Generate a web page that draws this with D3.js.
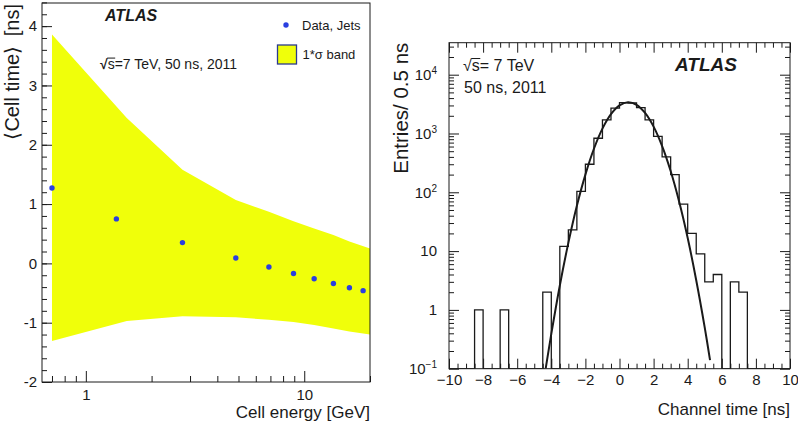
<!DOCTYPE html>
<html><head><meta charset="utf-8">
<script src="https://cdn.jsdelivr.net/npm/d3@7"></script>
<style>
body{margin:0;background:#fff}
svg{font-family:"Liberation Sans",Arial,Helvetica,sans-serif;display:block}
</style>
</head><body>
<svg id="c" width="798" height="425"></svg>
<script>
// ---------- Left panel data ----------
const energy   = [0.70, 1.38, 2.77, 4.86, 6.89, 8.93, 11.1, 13.6, 16.1, 18.6];
const cellTime = [1.27, 0.75, 0.35, 0.09, -0.06, -0.17, -0.26, -0.34, -0.41, -0.46];
const bandEnergy = [0.70, 1.54, 2.77, 4.86, 6.89, 8.93, 11.1, 13.6, 16.1, 20];
const bandUpper  = [3.86, 2.45, 1.58, 1.07, 0.87, 0.71, 0.59, 0.48, 0.37, 0.25];
const bandLower  = [-1.31, -0.97, -0.89, -0.91, -0.95, -0.99, -1.04, -1.10, -1.15, -1.20];
const leftYTicks = [-2, -1, 0, 1, 2, 3, 4];
const leftYLabels = ["-2", "-1", "0", "1", "2", "3", "4"];
const leftXTicks = [1, 10];
const leftXLabels = ["1", "10"];
const leftXMinor = [0.7, 0.8, 0.9, 2, 3, 4, 5, 6, 7, 8, 9, 20];

// ---------- Right panel data ----------
const binLow = [-10,-9.5,-9,-8.5,-8,-7.5,-7,-6.5,-6,-5.5,-5,-4.5,-4,-3.5,-3,-2.5,-2,-1.5,-1,-0.5,
                0,0.5,1,1.5,2,2.5,3,3.5,4,4.5,5,5.5,6,6.5,7,7.5,8,8.5,9,9.5];
const entries = [0,0,0,1,0,0,1,0,0,0,0,2,0,12,23,104,300,830,1700,2700,
                 3350,3300,2750,1700,890,400,200,63,20,9,3,4,0,3,2,0,0,0,0,0];
const fitTime  = [-4.33,-4.0,-3.5,-3.0,-2.5,-2.0,-1.5,-1.0,-0.5,0,0.5,1.0,1.5,2.0,2.5,3.0,3.5,4.0,4.5,5.0,5.31];
const fitValue = [0.1,0.39,2.6,13.8,59,200,550,1210,2130,3000,3400,3080,2240,1310,612,230,69,16.7,3.2,0.5,0.14];
const rightXTicks = [-10,-8,-6,-4,-2,0,2,4,6,8,10];
const rightXLabels = ["\u221210","\u22128","\u22126","\u22124","\u22122","0","2","4","6","8","10"];
const rightYTicks = [0.1, 1, 10, 100, 1000, 10000];
const rightYBase = ["10", "1", "10", "10", "10", "10"];
const rightYExp  = ["\u22121", "", "", "2", "3", "4"];

const svg = d3.select("#c");
const INK = "#1a1a1a";

// ================= LEFT PANEL =================
const L = {x0: 42, x1: 370, y0: 3, y1: 382};
const xL = d3.scaleLog().domain([0.63, 20]).range([L.x0, L.x1]);
const yL = d3.scaleLinear().domain([-2, 4.39]).range([L.y1, L.y0]);

svg.append("clipPath").attr("id", "clipL").append("rect")
  .attr("x", L.x0).attr("y", L.y0).attr("width", L.x1 - L.x0).attr("height", L.y1 - L.y0);

const gL = svg.append("g");
const bandData = bandEnergy.map((e, i) => ({e, hi: bandUpper[i], lo: bandLower[i]}));
gL.append("path").datum(bandData)
  .attr("clip-path", "url(#clipL)")
  .attr("fill", "#f0ff0a")
  .attr("d", d3.area().x(d => xL(d.e)).y0(d => yL(d.lo)).y1(d => yL(d.hi)));

gL.selectAll("circle.pt").data(energy.map((e, i) => ({e, t: cellTime[i]})))
  .join("circle").attr("class", "pt")
  .attr("cx", d => xL(d.e)).attr("cy", d => yL(d.t)).attr("r", 2.7)
  .attr("fill", "#2a3fe0");

// axes
const minorY = d3.range(-2, 4.41, 0.2).map(v => +v.toFixed(1));
const axYLminor = gL.append("g").attr("transform", `translate(${L.x0},0)`)
  .call(d3.axisLeft(yL).tickValues(minorY).tickSize(-5).tickFormat(""));
const axYL = gL.append("g").attr("transform", `translate(${L.x0},0)`)
  .call(d3.axisLeft(yL).tickValues(leftYTicks).tickSize(-10).tickPadding(5)
        .tickFormat((d, i) => leftYLabels[i]));
const axXLminor = gL.append("g").attr("transform", `translate(0,${L.y1})`)
  .call(d3.axisBottom(xL).tickValues(leftXMinor).tickSize(-6).tickFormat(""));
const axXL = gL.append("g").attr("transform", `translate(0,${L.y1})`)
  .call(d3.axisBottom(xL).tickValues(leftXTicks).tickSize(-11).tickPadding(7)
        .tickFormat((d, i) => leftXLabels[i]));
[axYLminor, axYL, axXLminor, axXL].forEach(a => {
  a.select(".domain").remove();
  a.selectAll("line").attr("stroke", INK);
  a.selectAll("text").attr("font-size", 15).attr("fill", INK).attr("font-family", "Liberation Sans, Arial, sans-serif");
});
gL.append("rect").attr("x", L.x0).attr("y", L.y0).attr("width", L.x1 - L.x0).attr("height", L.y1 - L.y0)
  .attr("fill", "none").attr("stroke", INK).attr("stroke-width", 1);

// titles
gL.append("text").attr("transform", `translate(18.5,${L.y0 + 1}) rotate(-90)`)
  .attr("text-anchor", "end").attr("font-size", 20).attr("fill", INK)
  .text("\u27E8Cell time\u27E9\u2009 [ns]");
gL.append("text").attr("x", L.x1).attr("y", 418).attr("text-anchor", "end")
  .attr("font-size", 17).attr("fill", INK).text("Cell energy [GeV]");

gL.append("text").attr("x", 105).attr("y", 21).attr("font-size", 16)
  .attr("font-weight", "bold").attr("font-style", "italic").attr("fill", INK).text("ATLAS");

function sqrtS(g, x, y, size, rest, boldRoot) {
  const t = g.append("text").attr("x", x).attr("y", y).attr("font-size", size).attr("fill", INK);
  t.append("tspan").attr("font-weight", boldRoot ? "bold" : "normal").text("\u221A");
  t.append("tspan").text("s");
  t.append("tspan").text(rest);
  const node = t.node();
  const sx = node.getStartPositionOfChar(1).x;
  const ex = node.getEndPositionOfChar(1).x;
  g.append("line").attr("x1", sx - 0.5).attr("x2", ex + 0.5)
    .attr("y1", y - size * 0.78).attr("y2", y - size * 0.78)
    .attr("stroke", INK).attr("stroke-width", 1);
}
sqrtS(gL, 100, 69, 14, "=7 TeV, 50 ns, 2011", true);

// legend
gL.append("circle").attr("cx", 286).attr("cy", 25).attr("r", 2.7).attr("fill", "#2a3fe0");
gL.append("text").attr("x", 302).attr("y", 29.5).attr("font-size", 13).attr("fill", INK).text("Data, Jets");
gL.append("rect").attr("x", 277.5).attr("y", 45).attr("width", 19).attr("height", 19)
  .attr("fill", "#f0ff0a").attr("stroke", "#2b3a8f").attr("stroke-width", 1.3);
gL.append("text").attr("x", 302.5).attr("y", 58.5).attr("font-size", 13).attr("fill", INK).text("1*\u03C3 band");

// ================= RIGHT PANEL =================
const R = {x0: 449, x1: 790, y0: 42.7, y1: 368.7};
const xR = d3.scaleLinear().domain([-10, 10]).range([R.x0, R.x1]);
const yR = d3.scaleLog().domain([0.1, 35000]).range([R.y1, R.y0]);

svg.append("clipPath").attr("id", "clipR").append("rect")
  .attr("x", R.x0).attr("y", R.y0).attr("width", R.x1 - R.x0).attr("height", R.y1 - R.y0);
const gR = svg.append("g");

// histogram outline
const steps = [{t: binLow[0], v: 0.1}];
binLow.forEach((b, i) => {
  const v = Math.max(entries[i], 0.1);
  steps.push({t: b, v}, {t: b + 0.5, v});
});
steps.push({t: 10, v: 0.1});
gR.append("path").datum(steps).attr("clip-path", "url(#clipR)")
  .attr("fill", "none").attr("stroke", INK).attr("stroke-width", 1.3)
  .attr("d", d3.line().x(d => xR(d.t)).y(d => yR(d.v)));

// fit curve
gR.append("path").datum(fitTime.map((t, i) => ({t, v: fitValue[i]})))
  .attr("clip-path", "url(#clipR)")
  .attr("fill", "none").attr("stroke", INK).attr("stroke-width", 2)
  .attr("d", d3.line().x(d => xR(d.t)).y(d => yR(d.v)).curve(d3.curveCatmullRom.alpha(0.5)));

// ticks
const xMinorR = d3.range(-10, 10.01, 0.5).filter(v => Math.abs(v % 2) > 1e-9);
const yMinorR = [];
[0.1, 1, 10, 100, 1000, 10000].forEach(dec => {
  for (let k = 2; k <= 9; k++) { const v = dec * k; if (v <= 35000) yMinorR.push(v); }
});
function styleAxis(a) {
  a.select(".domain").remove();
  a.selectAll("line").attr("stroke", INK);
  a.selectAll("text").attr("font-size", 15).attr("fill", INK).attr("font-family", "Liberation Sans, Arial, sans-serif");
}
styleAxis(gR.append("g").attr("transform", `translate(0,${R.y1})`)
  .call(d3.axisBottom(xR).tickValues(xMinorR).tickSize(-5).tickFormat("")));
styleAxis(gR.append("g").attr("transform", `translate(0,${R.y1})`)
  .call(d3.axisBottom(xR).tickValues(rightXTicks).tickSize(-10).tickPadding(5.5)
        .tickFormat((d, i) => rightXLabels[i])));
styleAxis(gR.append("g").attr("transform", `translate(0,${R.y0})`)
  .call(d3.axisTop(xR).tickValues(xMinorR).tickSize(-5).tickFormat("")));
styleAxis(gR.append("g").attr("transform", `translate(0,${R.y0})`)
  .call(d3.axisTop(xR).tickValues(rightXTicks).tickSize(-10).tickFormat("")));
styleAxis(gR.append("g").attr("transform", `translate(${R.x0},0)`)
  .call(d3.axisLeft(yR).tickValues(yMinorR).tickSize(-5).tickFormat("")));
styleAxis(gR.append("g").attr("transform", `translate(${R.x0},0)`)
  .call(d3.axisLeft(yR).tickValues(rightYTicks).tickSize(-10).tickFormat("")));
styleAxis(gR.append("g").attr("transform", `translate(${R.x1},0)`)
  .call(d3.axisRight(yR).tickValues(yMinorR).tickSize(-5).tickFormat("")));
styleAxis(gR.append("g").attr("transform", `translate(${R.x1},0)`)
  .call(d3.axisRight(yR).tickValues(rightYTicks).tickSize(-10).tickFormat("")));

// y labels with exponents
const yl = gR.selectAll("text.ylab").data(rightYTicks).join("text").attr("class", "ylab")
  .attr("x", 437).attr("y", d => yR(d)).attr("dy", "0.35em")
  .attr("text-anchor", "end").attr("font-size", 15).attr("fill", INK);
yl.each(function(d, i) {
  const t = d3.select(this);
  t.append("tspan").text(rightYBase[i]);
  if (rightYExp[i]) t.append("tspan").attr("font-size", 10).attr("dy", "-0.55em").text(rightYExp[i]);
});

gR.append("rect").attr("x", R.x0).attr("y", R.y0).attr("width", R.x1 - R.x0).attr("height", R.y1 - R.y0)
  .attr("fill", "none").attr("stroke", INK).attr("stroke-width", 1);

// titles
gR.append("text").attr("transform", `translate(408,${R.y0}) rotate(-90)`)
  .attr("text-anchor", "end").attr("font-size", 20.5).attr("fill", INK).text("Entries/ 0.5 ns");
gR.append("text").attr("x", R.x1).attr("y", 415).attr("text-anchor", "end")
  .attr("font-size", 17).attr("fill", INK).text("Channel time [ns]");

sqrtS(gR, 463, 71, 16, "= 7 TeV", false);
gR.append("text").attr("x", 464).attr("y", 93).attr("font-size", 16).attr("fill", INK).text("50 ns, 2011");
gR.append("text").attr("x", 675).attr("y", 71).attr("font-size", 19)
  .attr("font-weight", "bold").attr("font-style", "italic").attr("fill", INK).text("ATLAS");
</script>
</body></html>
